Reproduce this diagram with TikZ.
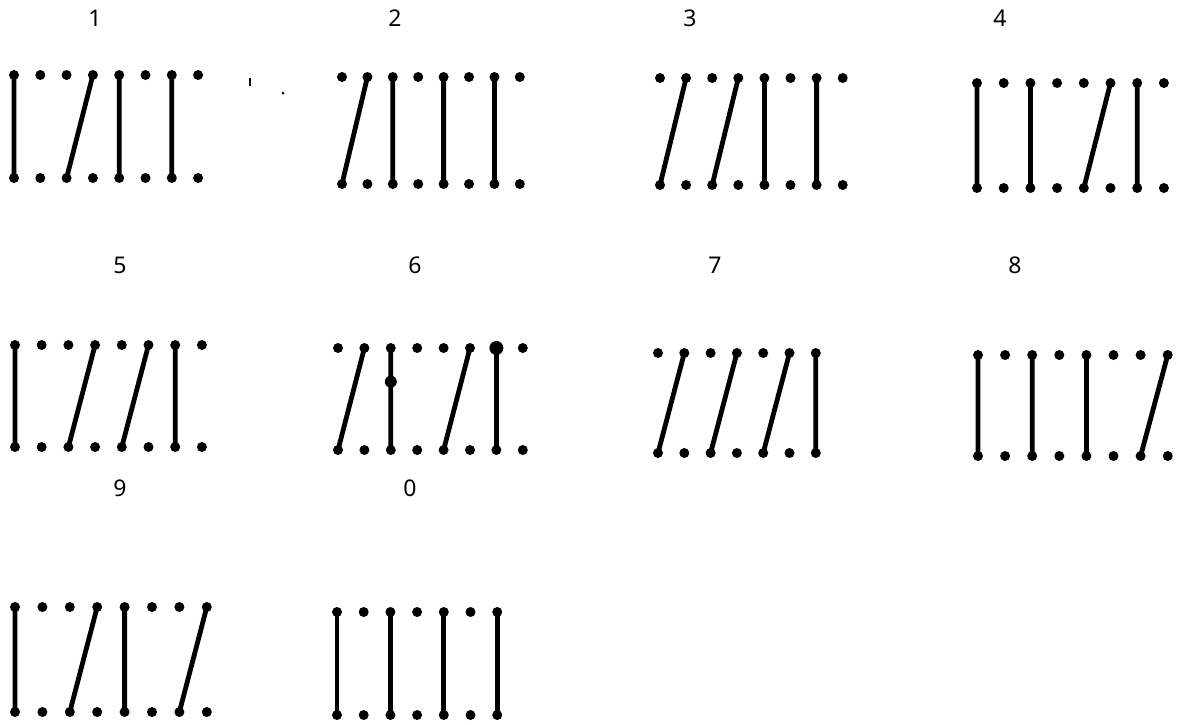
\documentclass[tikz,border=0pt]{standalone}
\usepackage{fontspec}
\setsansfont{Noto Sans}
\usepackage{tikz}
\newcommand{\punchrow}[6]{% name, first x, step, top y, bottom y, columns
  \foreach \c in {1,...,#6}{
    \node[spot] (#1t\c) at ({#2+(\c-1)*#3},#4) {};
    \node[spot] (#1b\c) at ({#2+(\c-1)*#3},#5) {};
  }}

\begin{document}
\begin{tikzpicture}[
  x=0.5pt, y=-0.5pt,
  spot/.style={circle, fill=black, inner sep=0pt, minimum size=5pt},
  bar/.style={line width=2.4pt, line cap=round},
  num/.style={font=\sffamily\fontsize{11.5}{13}\selectfont}
]
\useasboundingbox (0,0) rectangle (1182,724);
% digit labels
\node[num] (n1) at (95,18) {1};
\node[num] (n2) at (395,18) {2};
\node[num] (n3) at (690,18) {3};
\node[num] (n4) at (1000,18) {4};
\node[num] (n5) at (120,265) {5};
\node[num] (n6) at (415,265) {6};
\node[num] (n7) at (715,265) {7};
\node[num] (n8) at (1015,265) {8};
\node[num] (n9) at (120,488) {9};
\node[num] (n0) at (410,488) {0};
% holes
\punchrow{d1}{14}{26.3}{75}{178}{8}
\punchrow{d2}{342}{25.4}{77}{184}{8}
\punchrow{d3}{660}{26.1}{78}{185}{8}
\punchrow{d4}{977}{26.7}{83}{188}{8}
\punchrow{d5}{15}{26.7}{345}{447}{8}
\punchrow{d6}{338}{26.4}{348}{450}{8}
\punchrow{d7}{658}{26.3}{353}{453}{7}
\punchrow{d8}{978}{27.1}{355}{456}{8}
\punchrow{d9}{15}{27.4}{607}{712}{8}
\punchrow{d0}{337}{26.7}{612}{715}{7}
% strokes
\draw[bar] (d1t1.center) -- (d1b1.center) (d1t4.center) -- (d1b3.center) (d1t5.center) -- (d1b5.center) (d1t7.center) -- (d1b7.center);
\draw[bar] (d2t2.center) -- (d2b1.center) (d2t3.center) -- (d2b3.center) (d2t5.center) -- (d2b5.center) (d2t7.center) -- (d2b7.center);
\draw[bar] (d3t2.center) -- (d3b1.center) (d3t4.center) -- (d3b3.center) (d3t5.center) -- (d3b5.center) (d3t7.center) -- (d3b7.center);
\draw[bar] (d4t1.center) -- (d4b1.center) (d4t3.center) -- (d4b3.center) (d4t6.center) -- (d4b5.center) (d4t7.center) -- (d4b7.center);
\draw[bar] (d5t1.center) -- (d5b1.center) (d5t4.center) -- (d5b3.center) (d5t6.center) -- (d5b5.center) (d5t7.center) -- (d5b7.center);
\draw[bar] (d6t2.center) -- (d6b1.center) (d6t3.center) -- node[spot, minimum size=6pt, pos=0.33] (d6blob) {} (d6b3.center) (d6t6.center) -- (d6b5.center) (d6t7.center) -- (d6b7.center);
\draw[bar] (d7t2.center) -- (d7b1.center) (d7t4.center) -- (d7b3.center) (d7t6.center) -- (d7b5.center) (d7t7.center) -- (d7b7.center);
\draw[bar] (d8t1.center) -- (d8b1.center) (d8t3.center) -- (d8b3.center) (d8t5.center) -- (d8b5.center) (d8t8.center) -- (d8b7.center);
\draw[bar] (d9t1.center) -- (d9b1.center) (d9t4.center) -- (d9b3.center) (d9t5.center) -- (d9b5.center) (d9t8.center) -- (d9b7.center);
\draw[bar] (d0t1.center) -- (d0b1.center) (d0t3.center) -- (d0b3.center) (d0t5.center) -- (d0b5.center) (d0t7.center) -- (d0b7.center);
\node[spot, minimum size=7pt] (d6knot) at (d6t7) {};
% specks next to the first card
\draw[line width=0.8pt] (250,78) -- (250,86);
\node[spot, minimum size=1.5pt] (speck) at (283,93) {};
\end{tikzpicture}
\end{document}
